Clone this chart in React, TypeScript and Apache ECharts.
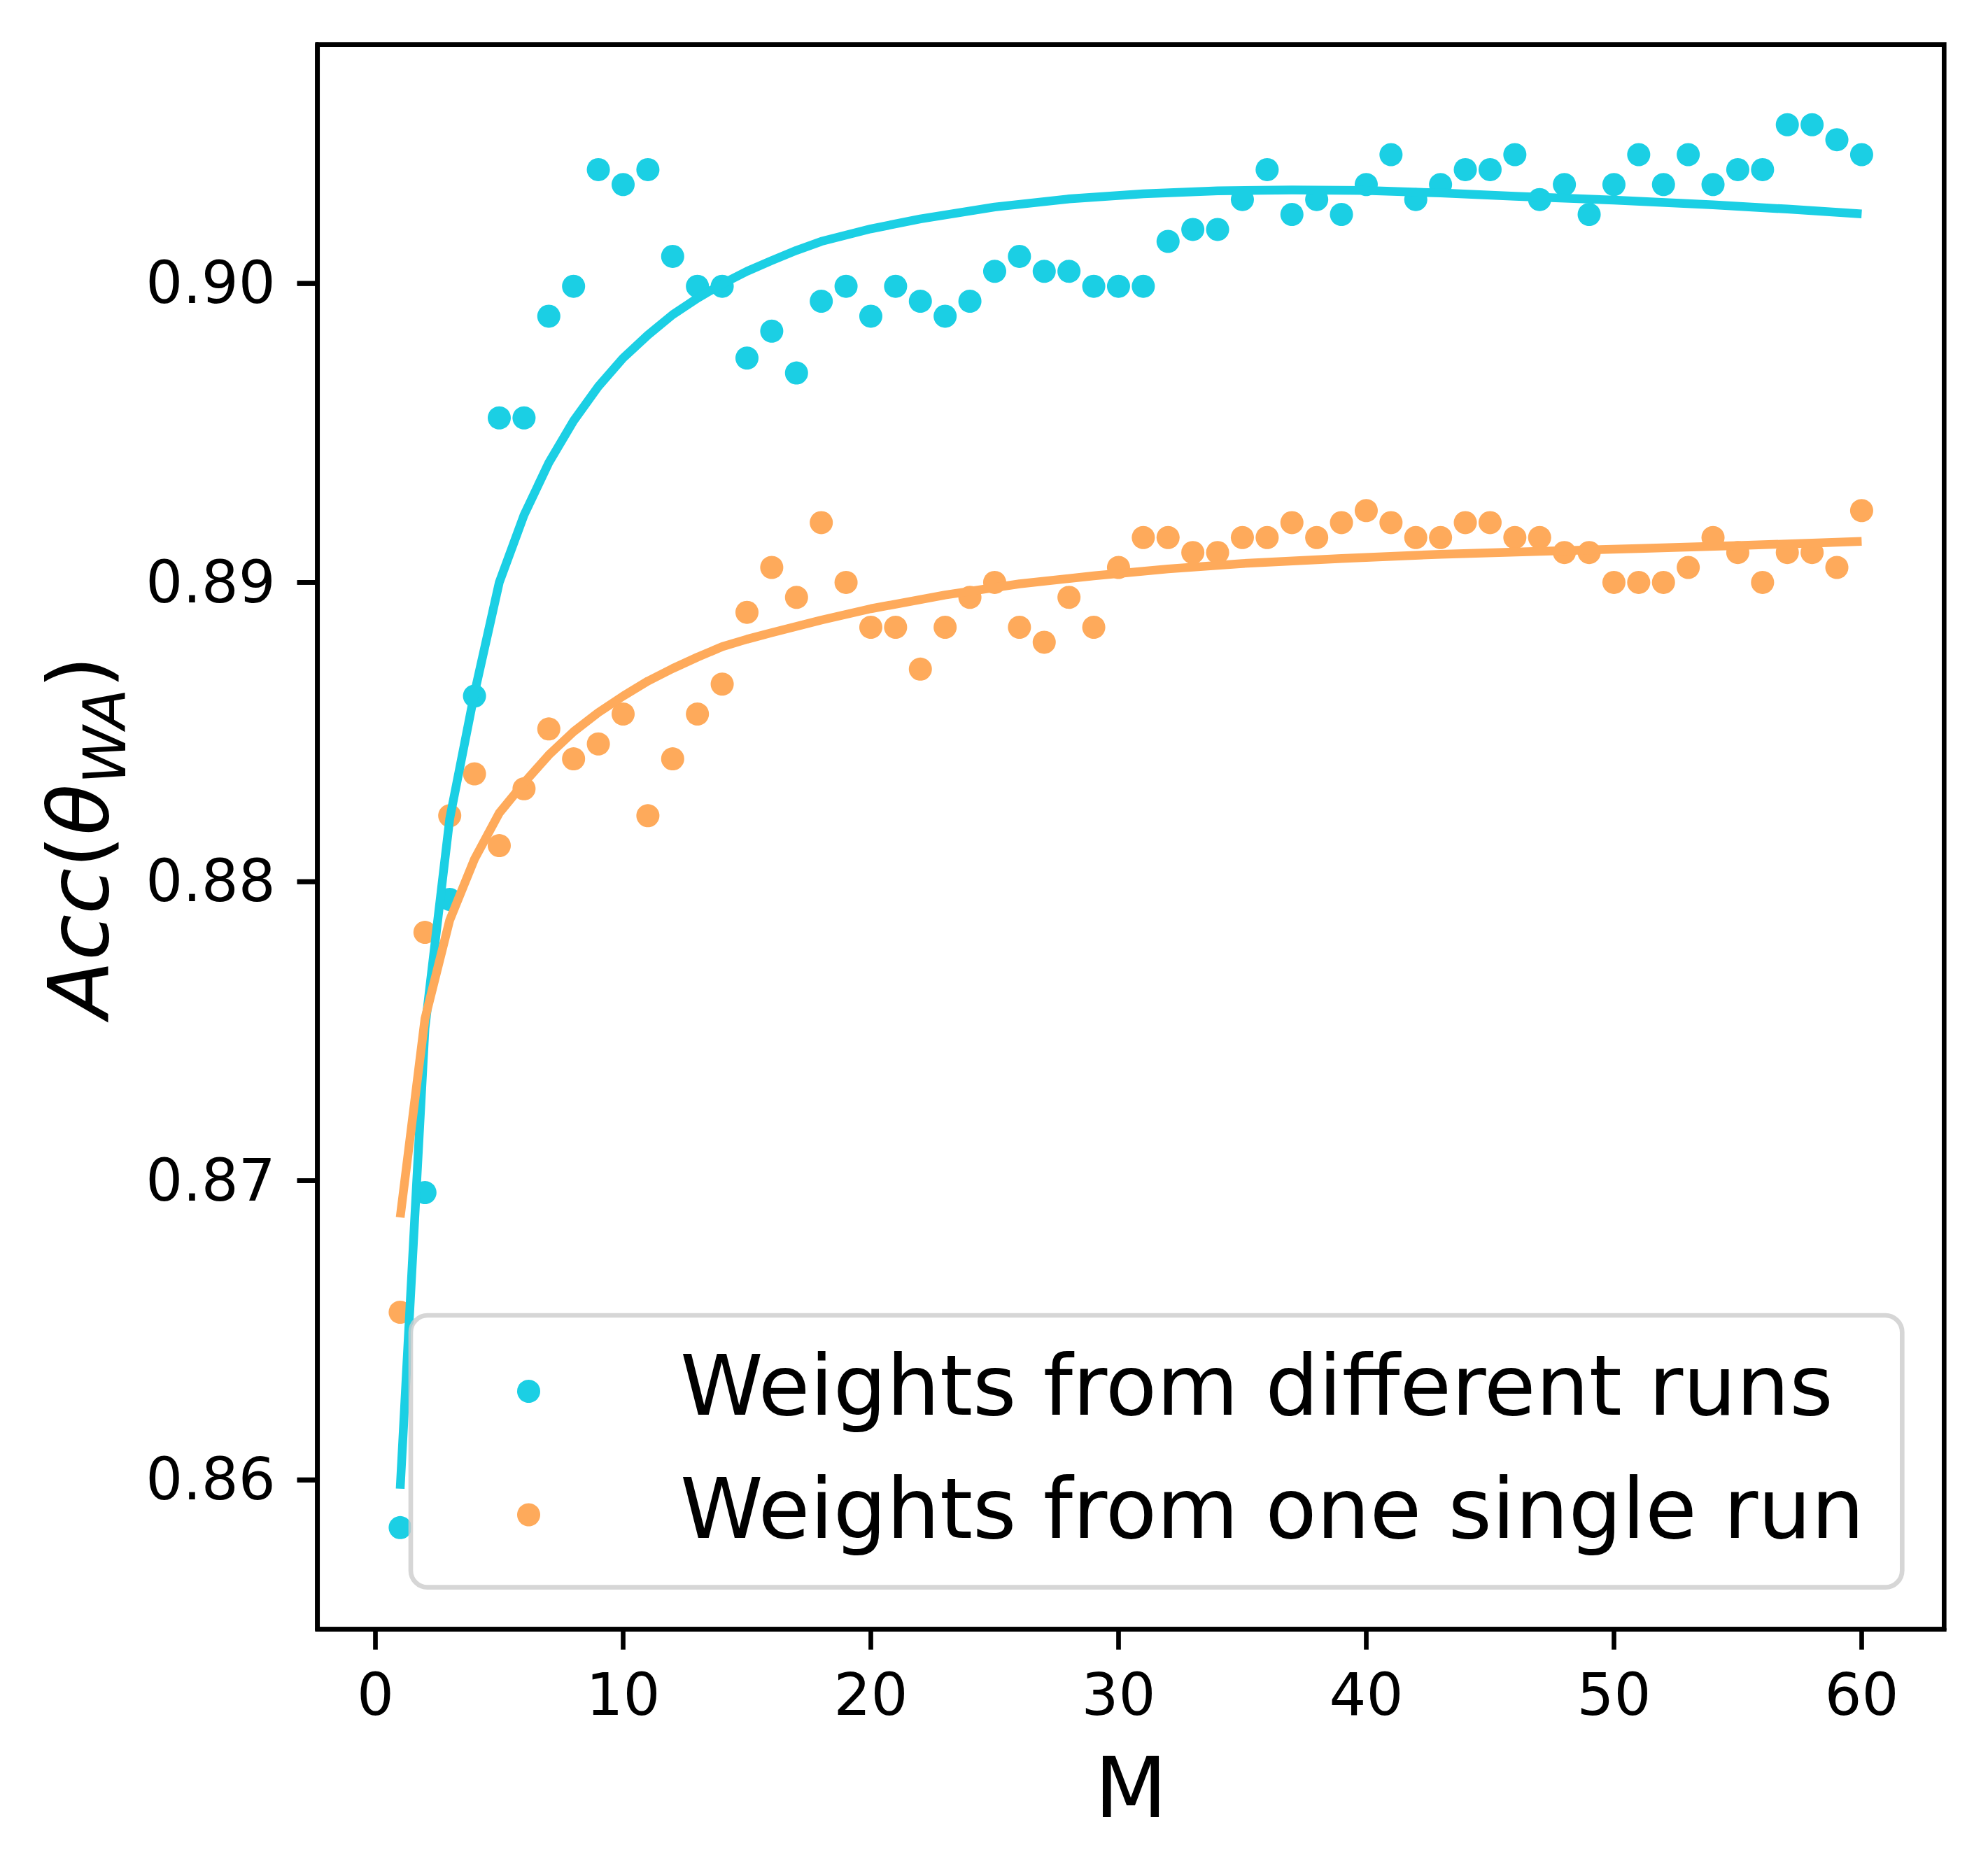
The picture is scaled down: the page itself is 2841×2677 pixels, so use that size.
import React, { useEffect, useRef } from "react";
import * as echarts from "echarts";

const M_VALUES = [
  1, 2, 3, 4, 5, 6, 7, 8, 9, 10, 11, 12, 13, 14, 15, 16, 17, 18, 19, 20,
  21, 22, 23, 24, 25, 26, 27, 28, 29, 30, 31, 32, 33, 34, 35, 36, 37, 38, 39, 40,
  41, 42, 43, 44, 45, 46, 47, 48, 49, 50, 51, 52, 53, 54, 55, 56, 57, 58, 59, 60,
];

const ACC_DIFFERENT_RUNS = [
  0.8584, 0.8696, 0.8794, 0.8862, 0.8955, 0.8955, 0.8989, 0.8999, 0.9038, 0.9033,
  0.9038, 0.9009, 0.8999, 0.8999, 0.8975, 0.8984, 0.897, 0.8994, 0.8999, 0.8989,
  0.8999, 0.8994, 0.8989, 0.8994, 0.9004, 0.9009, 0.9004, 0.9004, 0.8999, 0.8999,
  0.8999, 0.9014, 0.9018, 0.9018, 0.9028, 0.9038, 0.9023, 0.9028, 0.9023, 0.9033,
  0.9043, 0.9028, 0.9033, 0.9038, 0.9038, 0.9043, 0.9028, 0.9033, 0.9023, 0.9033,
  0.9043, 0.9033, 0.9043, 0.9033, 0.9038, 0.9038, 0.9053, 0.9053, 0.9048, 0.9043,
];

const ACC_SINGLE_RUN = [
  0.8656, 0.8783, 0.8822, 0.8836, 0.8812, 0.8831, 0.8851, 0.8841, 0.8846, 0.8856,
  0.8822, 0.8841, 0.8856, 0.8866, 0.889, 0.8905, 0.8895, 0.892, 0.89, 0.8885,
  0.8885, 0.8871, 0.8885, 0.8895, 0.89, 0.8885, 0.888, 0.8895, 0.8885, 0.8905,
  0.8915, 0.8915, 0.891, 0.891, 0.8915, 0.8915, 0.892, 0.8915, 0.892, 0.8924,
  0.892, 0.8915, 0.8915, 0.892, 0.892, 0.8915, 0.8915, 0.891, 0.891, 0.89,
  0.89, 0.89, 0.8905, 0.8915, 0.891, 0.89, 0.891, 0.891, 0.8905, 0.8924,
];

const FIT_DIFFERENT_M = [
  1, 2, 3, 4, 5, 6, 7, 8, 9, 10, 11, 12, 13, 14, 15, 16, 17, 18, 20, 22, 25, 28,
  31, 34, 37, 40, 43, 46, 50, 54, 57, 60,
];
const FIT_DIFFERENT_ACC = [
  0.8597, 0.87509, 0.8821, 0.8863, 0.89, 0.89225, 0.894, 0.8954, 0.89655, 0.8975,
  0.89827, 0.89895, 0.8995, 0.89998, 0.9004, 0.90076, 0.9011, 0.9014, 0.90182,
  0.90215, 0.90255, 0.90282, 0.90299, 0.90309, 0.90312, 0.9031, 0.90302, 0.90291,
  0.90278, 0.90262, 0.90248, 0.90232,
];

const FIT_SINGLE_M = [
  1, 2, 3, 4, 5, 6, 7, 8, 9, 10, 11, 12, 13, 14, 15, 16, 18, 20, 23, 26, 29, 32,
  35, 39, 43, 47, 51, 55, 60,
];
const FIT_SINGLE_ACC = [
  0.86877, 0.87541, 0.87871, 0.88075, 0.88229, 0.8833, 0.88423, 0.88501, 0.88565,
  0.8862, 0.8867, 0.88712, 0.8875, 0.88785, 0.8881, 0.88832, 0.88874, 0.88912,
  0.88958, 0.88995, 0.89022, 0.89045, 0.89063, 0.8908, 0.89094, 0.89104, 0.89113,
  0.89123, 0.89137,
];

const X_TICKS = [0, 10, 20, 30, 40, 50, 60];
const Y_TICKS = [0.86, 0.87, 0.88, 0.89, 0.9];
const LEGEND_LABELS = ["Weights from different runs", "Weights from one single run"];

const X_MIN = -2.339;
const X_MAX = 63.33;
const Y_MIN = 0.855;
const Y_MAX = 0.90798;

const CYAN = "#1bcfe4";
const ORANGE = "#feaa5b";
const FONT = "DejaVu Sans";
const TICK_LEN = 29;
const TICK_W = 6.67;

function pairs(xs: number[], ys: number[]) {
  return xs.map((x, i) => [x, ys[i]]);
}

function buildOption(extraGraphics: any[]) {
  const lineStyle = { color: "#000", width: TICK_W };
  return {
    animation: false,
    backgroundColor: "#ffffff",
    grid: {
      left: 453.7,
      top: 63.7,
      width: 2324.6,
      height: 2265,
      show: true,
      borderColor: "#000",
      borderWidth: TICK_W,
      backgroundColor: "transparent",
      containLabel: false,
      outerBoundsMode: "none",
    },
    xAxis: {
      type: "value",
      position: "bottom",
      min: X_MIN,
      max: X_MAX,
      axisLine: { show: true, onZero: false, lineStyle },
      splitLine: { show: false },
      axisTick: {
        show: true,
        inside: false,
        length: TICK_LEN,
        lineStyle,
        customValues: X_TICKS,
      },
      axisLabel: {
        customValues: X_TICKS,
        margin: 52,
        fontSize: 83.3,
        fontFamily: FONT,
        color: "#000",
      },
      name: "M",
      nameLocation: "middle",
      nameGap: 167,
      nameMoveOverlap: false,
      nameTextStyle: { fontSize: 120, fontFamily: FONT, color: "#000" },
    },
    yAxis: {
      type: "value",
      position: "left",
      min: Y_MIN,
      max: Y_MAX,
      axisLine: { show: true, onZero: false, lineStyle },
      splitLine: { show: false },
      axisTick: {
        show: true,
        inside: false,
        length: TICK_LEN,
        lineStyle,
        customValues: Y_TICKS,
      },
      axisLabel: {
        customValues: Y_TICKS,
        margin: 60,
        fontSize: 83.3,
        fontFamily: FONT,
        color: "#000",
        formatter: (v: number) => v.toFixed(2),
      },
      name: "{i|Acc}{u|(}{i|θ}{s|WA}{u|)}",
      nameLocation: "middle",
      nameRotate: 90,
      nameGap: 262,
      nameMoveOverlap: false,
      nameTextStyle: {
        fontSize: 120,
        fontFamily: FONT,
        color: "#000",
        rich: {
          i: { fontStyle: "italic", fontSize: 120, fontFamily: FONT, color: "#000" },
          u: { fontSize: 120, fontFamily: FONT, color: "#000" },
          s: {
            fontStyle: "italic",
            fontSize: 84,
            fontFamily: FONT,
            color: "#000",
            padding: [75, 0, 0, 0],
          },
        },
      },
    },
    series: [
      {
        name: LEGEND_LABELS[0],
        type: "scatter",
        data: pairs(M_VALUES, ACC_DIFFERENT_RUNS),
        symbol: "circle",
        symbolSize: 33,
        itemStyle: { color: CYAN, opacity: 1 },
        z: 2,
      },
      {
        name: LEGEND_LABELS[1],
        type: "scatter",
        data: pairs(M_VALUES, ACC_SINGLE_RUN),
        symbol: "circle",
        symbolSize: 33,
        itemStyle: { color: ORANGE, opacity: 1 },
        z: 2,
      },
      {
        name: "fit different",
        type: "line",
        data: pairs(FIT_DIFFERENT_M, FIT_DIFFERENT_ACC),
        showSymbol: false,
        symbol: "none",
        lineStyle: { color: CYAN, width: 12.5, cap: "butt", join: "round" },
        z: 3,
      },
      {
        name: "fit single",
        type: "line",
        data: pairs(FIT_SINGLE_M, FIT_SINGLE_ACC),
        showSymbol: false,
        symbol: "none",
        lineStyle: { color: ORANGE, width: 12.5, cap: "butt", join: "round" },
        z: 3,
      },
    ],
    graphic: [
      {
        type: "rect",
        z: 100,
        shape: { x: 587, y: 1880, width: 2131.3, height: 388.7, r: 24 },
        style: {
          fill: "rgba(255,255,255,0.8)",
          stroke: "rgba(204,204,204,0.8)",
          lineWidth: TICK_W,
        },
      },
      {
        type: "circle",
        z: 101,
        shape: { cx: 755.5, cy: 1988.5, r: 16.5 },
        style: { fill: CYAN },
      },
      {
        type: "circle",
        z: 101,
        shape: { cx: 755.5, cy: 2165, r: 16.5 },
        style: { fill: ORANGE },
      },
      {
        type: "text",
        z: 101,
        x: 972,
        y: 1980.3,
        style: {
          text: LEGEND_LABELS[0],
          fontSize: 120,
          fontFamily: FONT,
          fill: "#000",
          verticalAlign: "middle",
          align: "left",
        },
      },
      {
        type: "text",
        z: 101,
        x: 972,
        y: 2156.3,
        style: {
          text: LEGEND_LABELS[1],
          fontSize: 120,
          fontFamily: FONT,
          fill: "#000",
          verticalAlign: "middle",
          align: "left",
        },
      },
      ...extraGraphics,
    ],
  };
}

export default function App() {
  const ref = useRef<HTMLDivElement>(null);

  useEffect(() => {
    if (!ref.current) return;
    const chart = echarts.init(ref.current, null, { renderer: "svg" });
    chart.setOption(buildOption([]) as any);

    // y-axis tick marks placed through the chart's own scale
    const tickLines: any[] = [];
    Y_TICKS.forEach((v) => {
      const p = chart.convertToPixel({ xAxisIndex: 0, yAxisIndex: 0 }, [X_MIN, v]) as any;
      if (p && isFinite(p[0]) && isFinite(p[1])) {
        tickLines.push({
          type: "line",
          z: 110,
          shape: { x1: p[0] - TICK_LEN, y1: p[1], x2: p[0], y2: p[1] },
          style: { stroke: "#000000", lineWidth: TICK_W },
        });
      }
    });
    chart.setOption(buildOption(tickLines) as any, true);
    return () => chart.dispose();
  }, []);

  return (
    <div
      ref={ref}
      style={{
        position: "absolute",
        left: 0,
        top: 0,
        width: 2841,
        height: 2677,
        background: "#ffffff",
      }}
    />
  );
}
